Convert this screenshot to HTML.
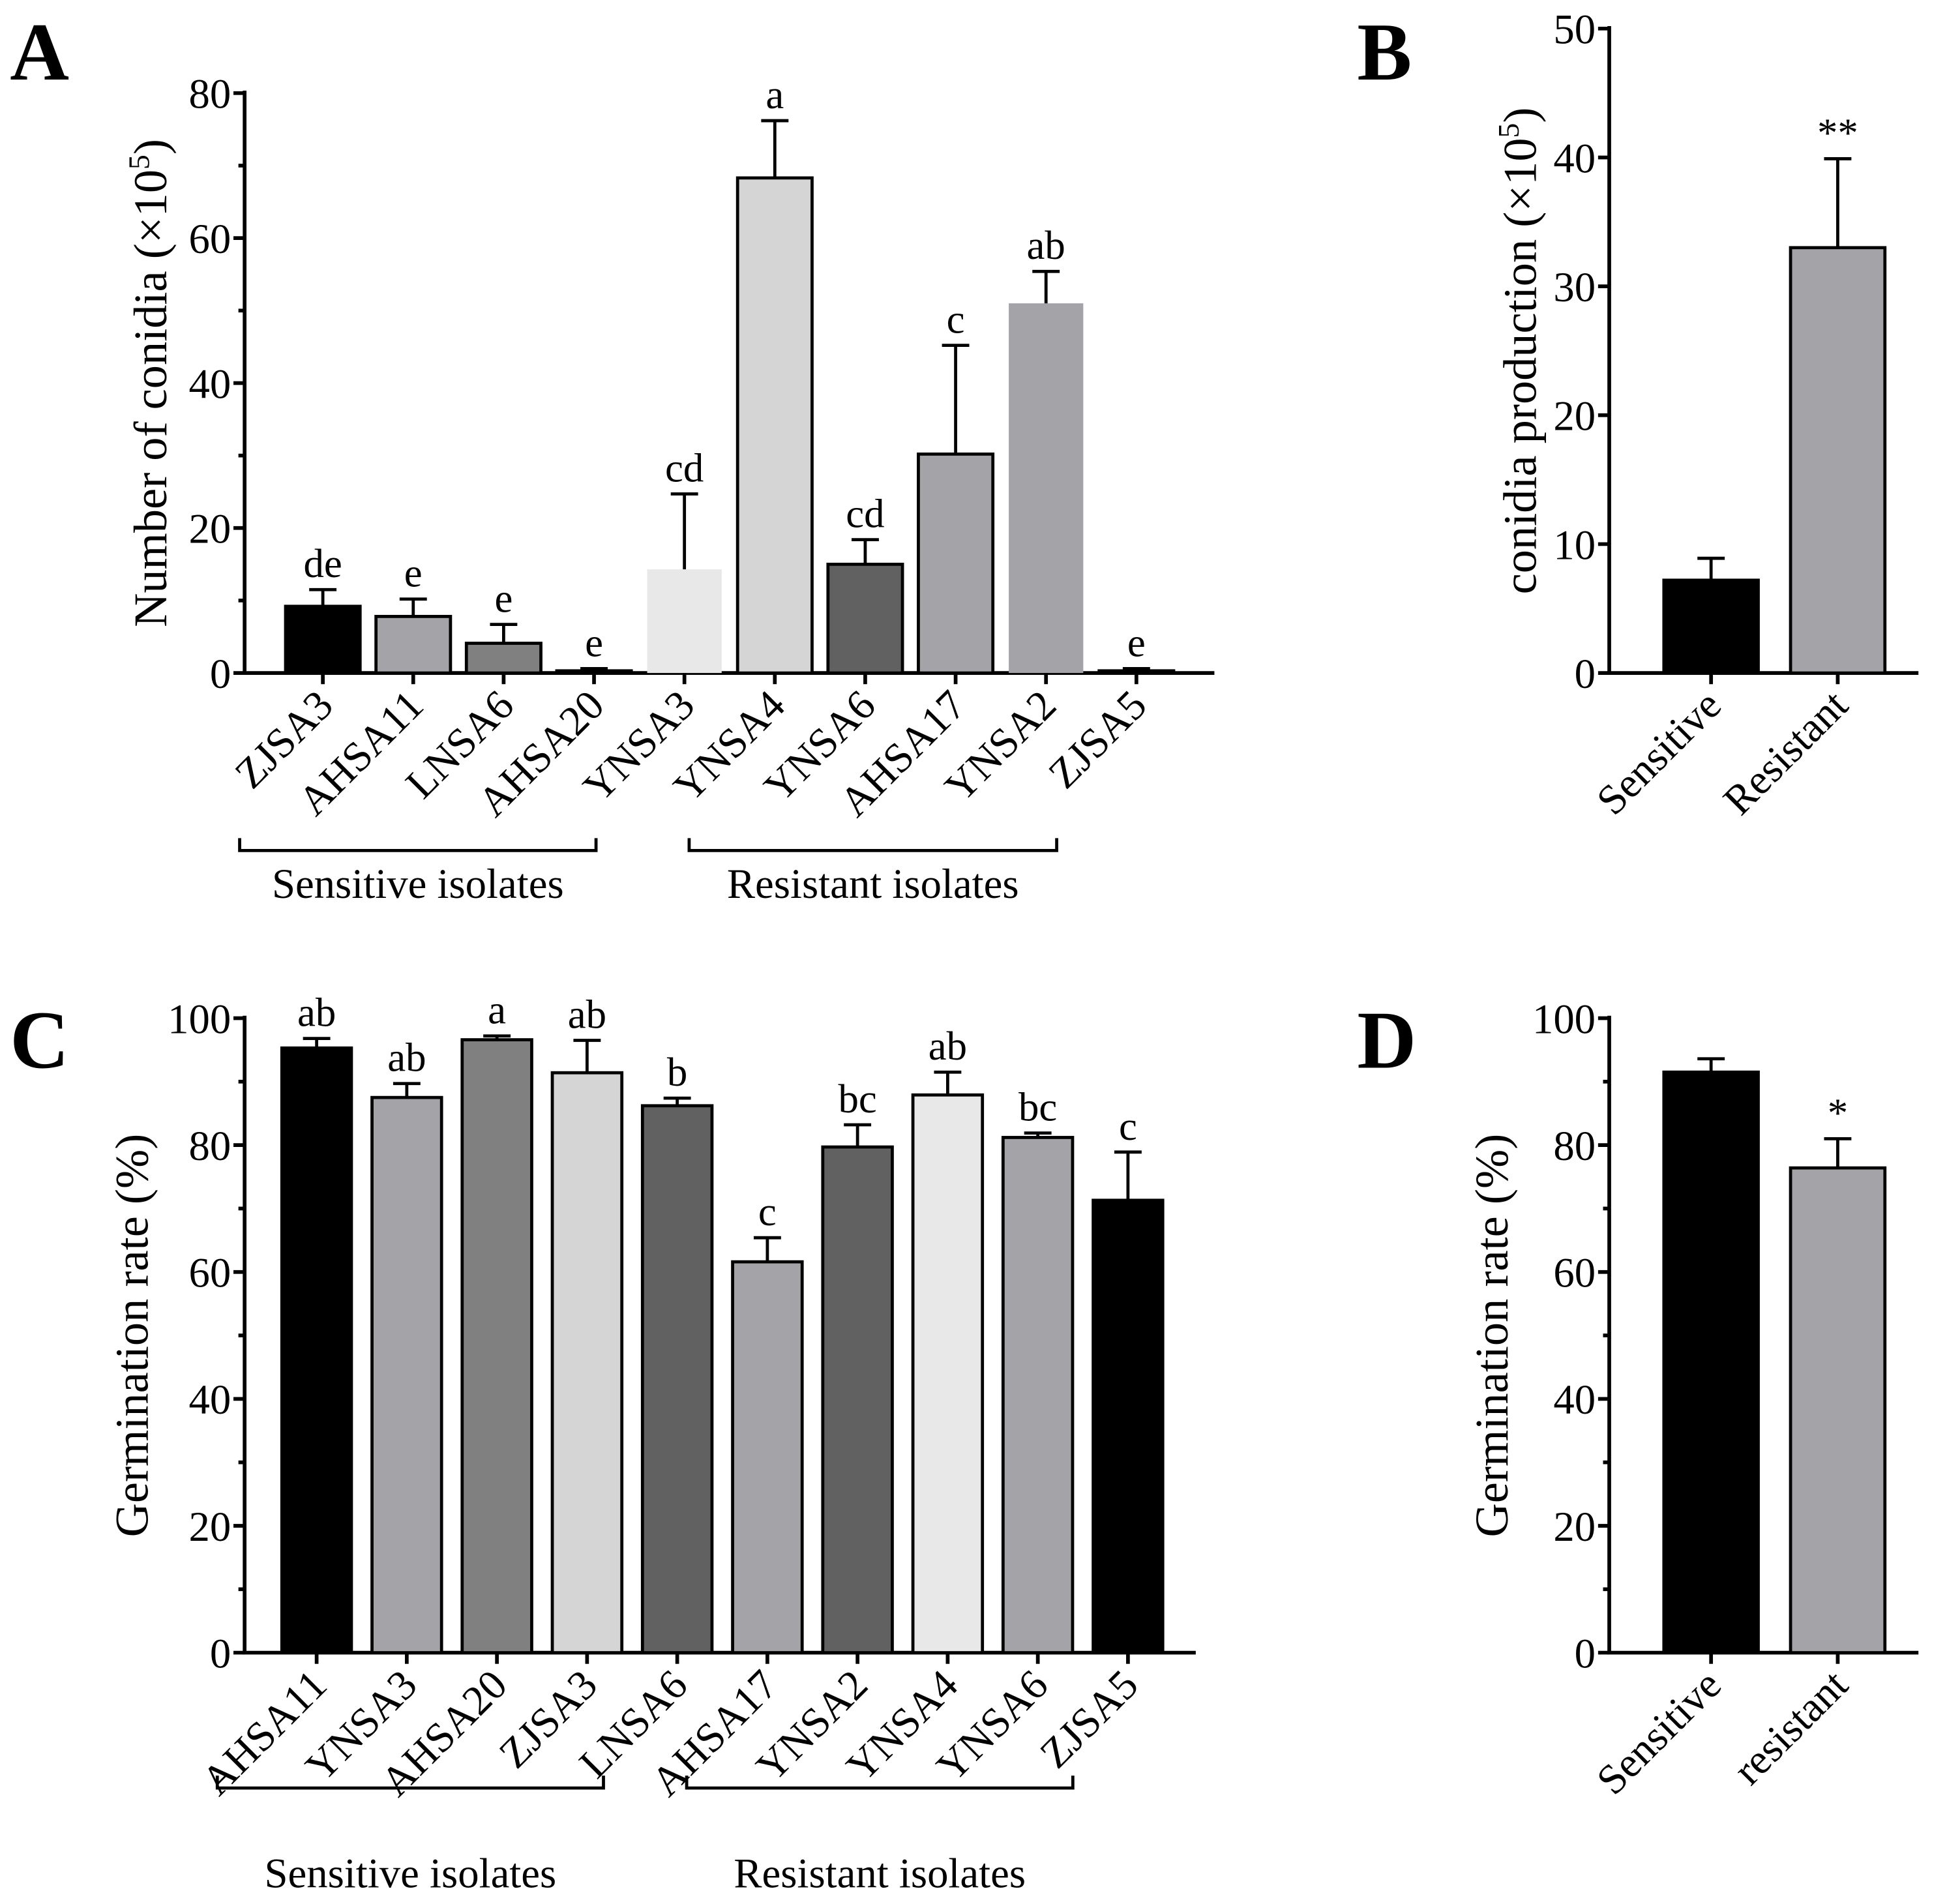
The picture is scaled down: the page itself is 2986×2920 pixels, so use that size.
<!DOCTYPE html>
<html><head><meta charset="utf-8"><style>
html,body{margin:0;padding:0;background:#fff;}
svg{display:block;font-family:"Liberation Serif",serif;}
</style></head><body>
<svg id="fig" width="2986" height="2920" viewBox="0 0 1568 1533.4" preserveAspectRatio="none" xmlns="http://www.w3.org/2000/svg">
<g id="gA"></g>
<g id="gB"></g>
<g id="gC"></g>
<g id="gD"></g>
</svg>
<script>
const catsA=["ZJSA3","AHSA11","LNSA6","AHSA20","YNSA3","YNSA4","YNSA6","AHSA17","YNSA2","ZJSA5"];
const valsA=[9.2,7.8,4.1,0.3,14.3,68.3,15,30.2,51,0.3];
const errA=[11.5,10.2,6.7,0.6,24.7,76.2,18.4,45.2,55.4,0.6];
const letA=["de","e","e","e","cd","a","cd","c","ab","e"];
const colA=["#000","#a3a3a8","#808080","#000","#e8e8e8","#d5d5d5","#616161","#a3a3a8","#a3a3a8","#000"];
const ticksA=[0,20,40,60,80];
const catsB=["Sensitive","Resistant"];
const valsB=[7.2,33];
const errB=[8.9,39.9];
const letB=["","**"];
const ticksB=[0,10,20,30,40,50];
const catsC=["AHSA11","YNSA3","AHSA20","ZJSA3","LNSA6","AHSA17","YNSA2","YNSA4","YNSA6","ZJSA5"];
const valsC=[95.3,87.5,96.6,91.4,86.2,61.6,79.7,87.9,81.2,71.3];
const errC=[96.8,89.7,97.2,96.5,87.4,65.4,83.2,91.5,81.9,78.9];
const letC=["ab","ab","a","ab","b","c","bc","ab","bc","c"];
const colC=["#000","#a3a3a8","#808080","#d5d5d5","#616161","#a3a3a8","#616161","#e8e8e8","#a3a3a8","#000"];
const ticksC=[0,20,40,60,80,100];
const catsD=["Sensitive","resistant"];
const valsD=[91.5,76.4];
const errD=[93.6,81];
const letD=["","*"];
const ticksD=[0,20,40,60,80,100];
const NS="http://www.w3.org/2000/svg";
function mk(p,t,a,txt){const e=document.createElementNS(NS,t);for(const k in a)e.setAttribute(k,a[k]);if(txt!==undefined)e.textContent=txt;p.appendChild(e);return e;}
function panel(g,o){
 const y=v=>o.y0-(v/o.max)*(o.y0-o.yTop);
 const x=i=>o.x0+i*o.step;
 const ax=mk(g,'path',{d:`M${o.ax} ${o.yTop-2}V${o.y0}H${o.xEnd}`,fill:'none',stroke:'#000','stroke-width':3});
 
 o.ticks.forEach(t=>{
  mk(g,'line',{x1:o.ax-9,x2:o.ax,y1:y(t),y2:y(t),stroke:'#000','stroke-width':3});
  const tl=mk(g,'text',{x:o.ax-11,y:y(t)+12,'text-anchor':'end','font-size':o.tfs},String(t));
  
 });
 if(o.minor){for(let i=0;i<o.ticks.length-1;i++){const m=(o.ticks[i]+o.ticks[i+1])/2;mk(g,'line',{x1:o.ax-5,x2:o.ax,y1:y(m),y2:y(m),stroke:'#000','stroke-width':3});}}
 o.cats.forEach((c,i)=>{
  const cx=x(i),v=o.vals[i];
  const b=mk(g,'rect',{x:cx-o.bw/2,y:y(v),width:o.bw,height:o.y0-y(v),fill:o.cols[i],stroke:o.noBorder&&o.noBorder.includes(i)?'none':'#000','stroke-width':2.5});
  
  const e=o.errs[i];
  mk(g,'path',{d:`M${cx} ${y(v)}V${y(e)}M${cx-11} ${y(e)}H${cx+11}`,stroke:'#000','stroke-width':2.5,fill:'none'});
  if(o.lets[i]){const l=mk(g,'text',{x:cx,y:y(e)-10,'text-anchor':'middle','font-size':33},o.lets[i]);
   }
  mk(g,'line',{x1:cx,x2:cx,y1:o.y0,y2:o.y0+9,stroke:'#000','stroke-width':3});
  const tx=cx+10,ty=o.y0+28;
  const t=mk(g,'text',{x:tx,y:ty,'text-anchor':'end','font-size':o.xfs,transform:`rotate(-45 ${tx} ${ty})`},c);
  
 });
 const yt=mk(g,'text',{x:o.ytx,y:(o.y0+o.yTop)/2,'text-anchor':'middle','font-size':o.yfs,transform:`rotate(-90 ${o.ytx} ${(o.y0+o.yTop)/2})`});
 
 yt.innerHTML=o.ytitle;
 const pl=mk(g,'text',{x:o.lx,y:o.ly,'font-size':66,'font-weight':'bold'},o.letter);
 
 if(o.brackets){o.brackets.forEach(br=>{
  const bp=mk(g,'path',{d:`M${br[0]} ${br[2]-10}V${br[2]}H${br[1]}V${br[2]-10}`,fill:'none',stroke:'#000','stroke-width':2.5});
  
  const bt=mk(g,'text',{x:(br[0]+br[1])/2,y:br[2]+o.gOff,'text-anchor':'middle','font-size':34},br[3]);
  
 });}
}
panel(document.getElementById('gA'),{cats:catsA,vals:valsA,errs:errA,lets:letA,cols:colA,ticks:ticksA,max:80,y0:542,yTop:75,ax:197,xEnd:978,x0:260,step:72.8,bw:60,minor:true,noBorder:[4,8],tfs:34,xfs:34,yfs:38,ytx:134,gOff:38,ytitle:'Number of conidia (×10<tspan dy="-14" font-size="24">5</tspan><tspan dy="14">)</tspan>',letter:'A',lx:8,ly:64,brackets:[[193,480,685,'Sensitive isolates'],[555,851,685,'Resistant isolates']]});
panel(document.getElementById('gB'),{cats:catsB,vals:valsB,errs:errB,lets:letB,cols:["#000","#a3a3a8"],ticks:ticksB,max:50,y0:542,yTop:23,ax:1296,xEnd:1545,x0:1378,step:102,bw:76,minor:false,tfs:34,xfs:34,yfs:38,ytx:1237,ytitle:'conidia production (×10<tspan dy="-14" font-size="24">5</tspan><tspan dy="14">)</tspan>',letter:'B',lx:1093,ly:64});
panel(document.getElementById('gC'),{cats:catsC,vals:valsC,errs:errC,lets:letC,cols:colC,ticks:ticksC,max:100,y0:1331,yTop:820,ax:197,xEnd:963,x0:255,step:72.6,bw:56,minor:true,tfs:34,xfs:34,yfs:38,ytx:119,gOff:80,ytitle:'Germination rate (%)',letter:'C',lx:8,ly:860,brackets:[[175,486,1440,'Sensitive isolates'],[553,864,1440,'Resistant isolates']]});
panel(document.getElementById('gD'),{cats:catsD,vals:valsD,errs:errD,lets:letD,cols:["#000","#a3a3a8"],ticks:ticksD,max:100,y0:1331,yTop:820,ax:1296,xEnd:1545,x0:1378,step:102,bw:76,minor:true,tfs:34,xfs:34,yfs:38,ytx:1214,ytitle:'Germination rate (%)',letter:'D',lx:1093,ly:860});
</script>
</body></html>
